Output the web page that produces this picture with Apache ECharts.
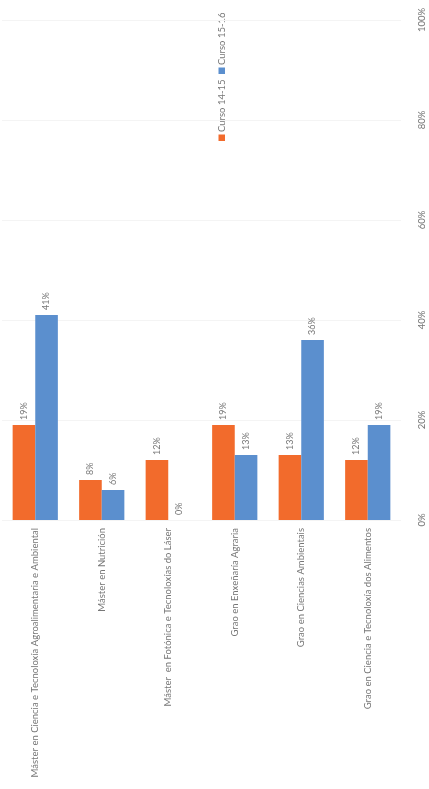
<!DOCTYPE html>
<html>
<head>
<meta charset="utf-8">
<script src="https://cdn.jsdelivr.net/npm/echarts@6/dist/echarts.min.js"></script>
<style>html,body{margin:0;padding:0;background:#fff;}#c{width:429px;height:789px;}</style>
</head>
<body>
<div id="c"></div>
<script>
const categories = [
  "Máster en Ciencia e Tecnoloxía Agroalimentaria e Ambiental",
  "Máster en Nutrición",
  "Máster  en Fotónica e Tecnoloxías do Láser",
  "Grao en Enxeñaría Agraria",
  "Grao en Ciencias Ambientais",
  "Grao en Ciencia e Tecnoloxía dos Alimentos"
];
const seriesNames = ["Curso 14-15", "Curso 15-16"];
const curso1415 = [19, 8, 12, 19, 13, 12];
const curso1516 = [41, 6, 0, 13, 36, 19];
const valueTicks = [0, 20, 40, 60, 80, 100];

const ORANGE = "#F26B2C";
const BLUE = "#5B8FCE";
const TXT = "#777";
const FONT = "Lato";

const chart = echarts.init(document.getElementById('c'), null, {renderer: 'canvas'});

function legendGraphic() {
  const children = [];
  let x = 0;
  const colors = [ORANGE, BLUE];
  seriesNames.forEach((n, i) => {
    children.push({type: 'rect', shape: {x: x, y: -3.5, width: 6.5, height: 6.5}, style: {fill: colors[i]}});
    x += 9;
    children.push({type: 'text', x: x, y: 0, style: {text: n, fill: TXT, font: '9.5px ' + FONT, verticalAlign: 'middle', align: 'left'}});
    x += 58;
  });
  return [{type: 'group', x: 222, y: 141, rotation: Math.PI / 2, children: children}];
}

chart.setOption({
  backgroundColor: '#fff',
  animation: false,
  textStyle: {fontFamily: FONT},
  grid: {left: 2, right: 28, top: 20, bottom: 269, containLabel: false},
  xAxis: {
    type: 'category',
    data: categories,
    axisLine: {show: false},
    axisTick: {show: false},
    axisLabel: {rotate: 90, color: TXT, fontSize: 9.5, fontFamily: FONT, margin: 8, interval: 0}
  },
  yAxis: {
    type: 'value',
    position: 'right',
    min: 0, max: 100, interval: 20,
    axisLine: {show: false},
    axisTick: {show: false},
    splitLine: {show: true, lineStyle: {color: '#f4f4f4', width: 1}},
    axisLabel: {rotate: 90, color: TXT, fontSize: 9.5, fontFamily: FONT, margin: 16,
      formatter: v => valueTicks.includes(v) ? v + '%' : ''}
  },
  series: [
    {name: seriesNames[0], type: 'bar', data: curso1415, barGap: '0%', barCategoryGap: '32%',
     itemStyle: {color: ORANGE},
     label: {show: true, position: 'top', rotate: 90, align: 'left', verticalAlign: 'middle', distance: 5,
       color: TXT, fontSize: 9, fontFamily: FONT, formatter: p => p.value + '%'}},
    {name: seriesNames[1], type: 'bar', data: curso1516, barGap: '0%', barCategoryGap: '32%',
     itemStyle: {color: BLUE},
     label: {show: true, position: 'top', rotate: 90, align: 'left', verticalAlign: 'middle', distance: 5,
       color: TXT, fontSize: 9, fontFamily: FONT, formatter: p => p.value + '%'}}
  ],
  graphic: legendGraphic()
});
</script>
</body>
</html>
